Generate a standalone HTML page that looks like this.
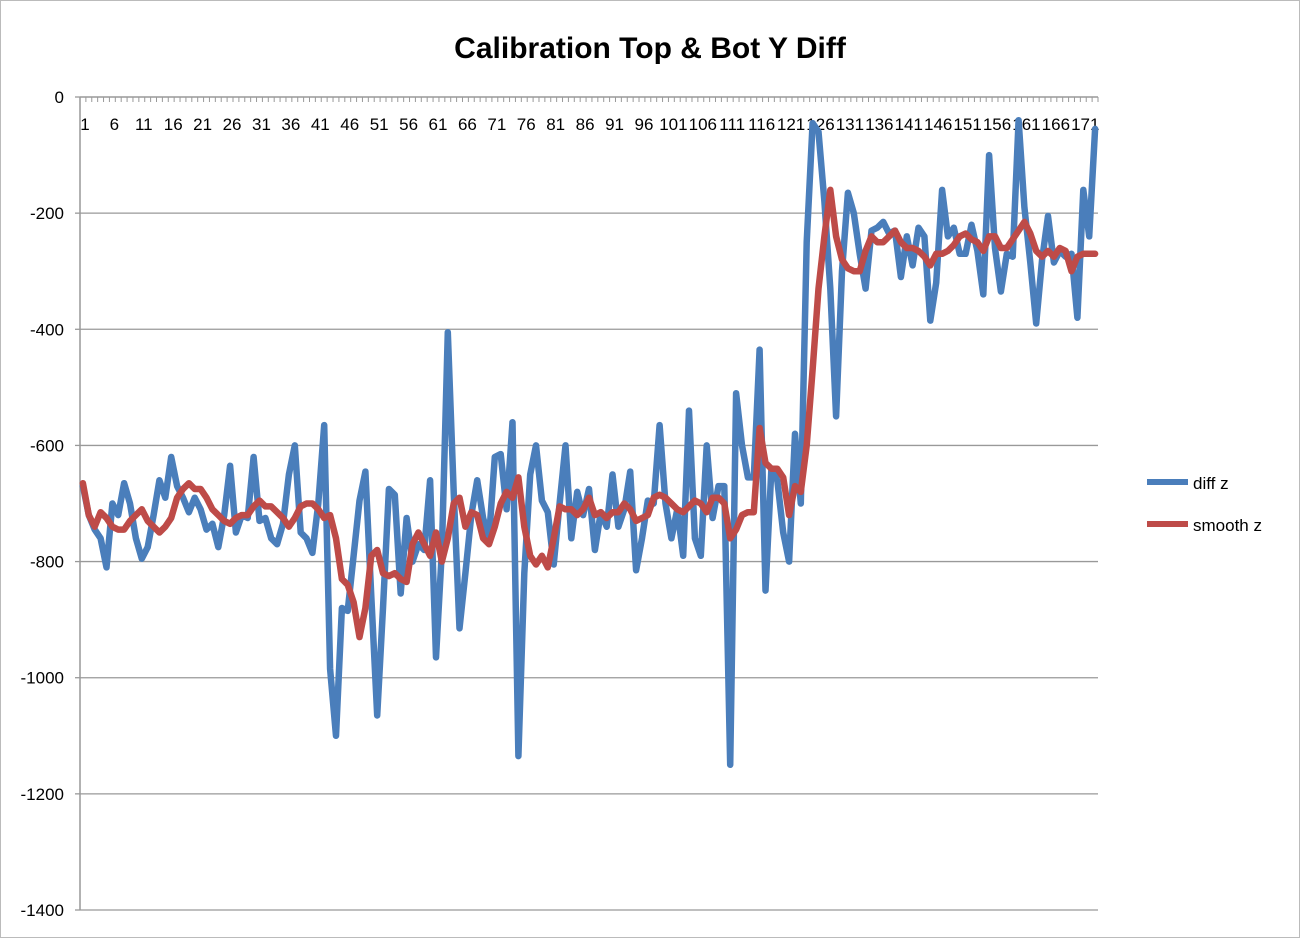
<!DOCTYPE html>
<html><head><meta charset="utf-8"><style>
body{margin:0;background:#fff;font-family:"Liberation Sans",sans-serif}
</style></head><body>
<svg id="chart" width="1300" height="938" xmlns="http://www.w3.org/2000/svg">
<rect x="0.5" y="0.5" width="1299" height="937" fill="#fff" stroke="#bbb"/>
<text x="650" y="58" text-anchor="middle" font-size="30" font-weight="bold" font-family="Liberation Sans, sans-serif">Calibration Top &amp; Bot Y Diff</text>
<g id="grid"></g>
<g id="axes"></g>
<g id="series"></g>
<g>
<line x1="1147" y1="482" x2="1188" y2="482" stroke="#4a7ebb" stroke-width="6"/>
<text x="1193" y="489" font-size="17">diff z</text>
<line x1="1147" y1="524" x2="1188" y2="524" stroke="#be4b48" stroke-width="6"/>
<text x="1193" y="531" font-size="17">smooth z</text>
</g>
</svg>
<script>
const diffZ=[-670,-720,-745,-760,-810,-700,-720,-665,-700,-760,-795,-775,-720,-660,-690,-620,-670,-690,-715,-690,-710,-745,-735,-775,-720,-635,-750,-720,-725,-620,-730,-725,-760,-770,-735,-650,-600,-750,-760,-785,-700,-565,-985,-1100,-880,-885,-790,-695,-645,-860,-1065,-880,-675,-685,-855,-725,-800,-770,-780,-660,-965,-780,-405,-680,-915,-820,-720,-660,-725,-760,-620,-615,-710,-560,-1135,-820,-650,-600,-695,-715,-805,-700,-600,-760,-680,-720,-675,-780,-715,-740,-650,-740,-710,-645,-815,-760,-695,-700,-565,-700,-760,-710,-790,-540,-760,-790,-600,-725,-670,-670,-1150,-510,-600,-655,-655,-435,-850,-640,-660,-750,-800,-580,-700,-250,-45,-60,-180,-330,-550,-300,-165,-200,-270,-330,-230,-225,-215,-235,-230,-310,-240,-290,-225,-240,-385,-320,-160,-240,-225,-270,-270,-220,-265,-340,-100,-260,-335,-270,-275,-40,-190,-285,-390,-280,-205,-285,-265,-275,-270,-380,-160,-240,-55];
const smoothZ=[-665,-720,-740,-715,-725,-740,-745,-745,-730,-720,-710,-730,-740,-750,-740,-725,-690,-675,-665,-675,-675,-690,-710,-720,-730,-735,-725,-720,-720,-705,-695,-705,-705,-715,-725,-740,-725,-705,-700,-700,-710,-725,-720,-760,-830,-840,-870,-930,-880,-790,-780,-820,-825,-820,-830,-835,-770,-750,-770,-790,-750,-800,-760,-700,-690,-740,-715,-720,-760,-770,-740,-700,-680,-690,-655,-740,-790,-805,-790,-810,-760,-705,-710,-710,-720,-710,-690,-720,-715,-725,-715,-715,-700,-710,-730,-725,-720,-690,-685,-690,-700,-710,-715,-705,-695,-700,-715,-690,-690,-700,-760,-745,-720,-715,-715,-570,-630,-640,-640,-655,-720,-670,-680,-600,-470,-330,-240,-160,-240,-280,-295,-300,-300,-265,-240,-250,-250,-240,-230,-250,-260,-260,-265,-275,-290,-270,-270,-265,-255,-240,-235,-245,-250,-265,-240,-240,-260,-260,-245,-230,-215,-235,-265,-275,-265,-275,-260,-265,-300,-275,-270,-270,-270];
const yTicks=[0,-200,-400,-600,-800,-1000,-1200,-1400];
const NS="http://www.w3.org/2000/svg";
const L=80,R=1098,T=97,B=910,yMin=-1400,yMax=0;
const n=diffZ.length, cw=(R-L)/n;
const xs=i=>L+cw*(i+0.5);
const ys=v=>T+(yMax-v)/(yMax-yMin)*(B-T);
function mk(tag,attrs,parent){const e=document.createElementNS(NS,tag);for(const k in attrs)e.setAttribute(k,attrs[k]);parent.appendChild(e);return e;}
const grid=document.getElementById('grid'),axes=document.getElementById('axes'),ser=document.getElementById('series');
yTicks.forEach(t=>{
  const y=ys(t);
  if(t!==0){const g=mk('line',{x1:L,x2:R,y1:y,y2:y,stroke:'#999','stroke-width':1.3},grid);
  
  }
  const tk=mk('line',{x1:L-5,x2:L,y1:y,y2:y,stroke:'#999','stroke-width':1.3},axes);
  
  
  const tx=mk('text',{x:L-16,y:y+6,'text-anchor':'end','font-size':17},axes);
  tx.textContent=t;
  
  
});
const ya=mk('line',{x1:L,x2:L,y1:T,y2:B,stroke:'#999','stroke-width':1.5},axes);


const xa=mk('line',{x1:L,x2:R,y1:T,y2:T,stroke:'#999','stroke-width':1.5},axes);


for(let i=0;i<=n;i++){
  const x=L+cw*i;
  const tk=mk('line',{x1:x,x2:x,y1:T,y2:T+5,stroke:'#999','stroke-width':1},axes);
  
  
}
for(let i=0;i<n;i+=5){
  const tx=mk('text',{x:xs(i)+2,y:T+33,'text-anchor':'middle','font-size':17},axes);
  tx.textContent=String(i+1);
  
  
}
function line(data,color,name){
  const p=mk('polyline',{points:data.map((v,i)=>xs(i).toFixed(1)+','+ys(v).toFixed(1)).join(' '),fill:'none',stroke:color,'stroke-width':6.5,'stroke-linejoin':'round','stroke-linecap':'round'},ser);
  
  
}
line(diffZ,'#4a7ebb','diff-z-line');
line(smoothZ,'#be4b48','smooth-z-line');
</script>
</body></html>
